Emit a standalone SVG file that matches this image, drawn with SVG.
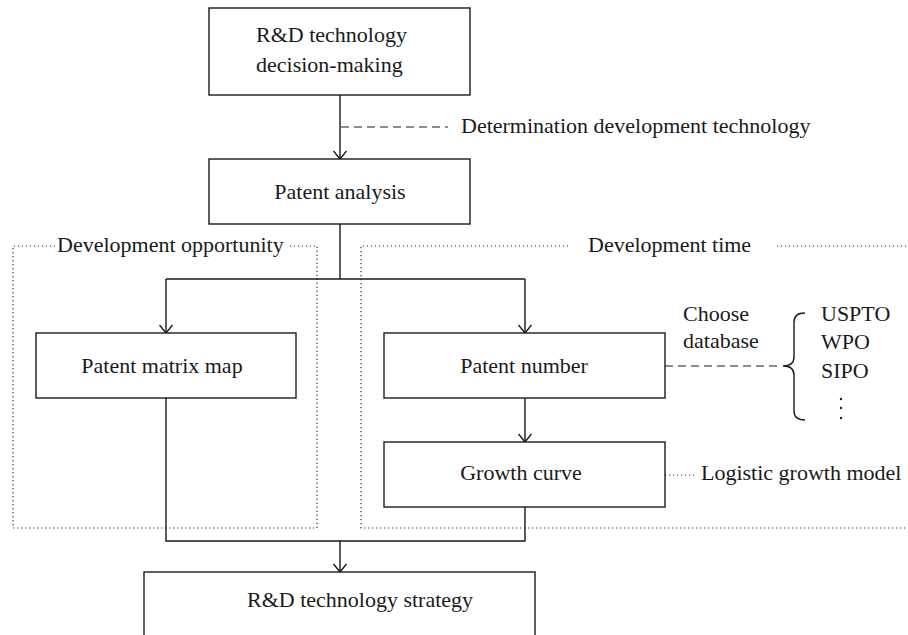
<svg xmlns="http://www.w3.org/2000/svg" width="908" height="635" viewBox="0 0 908 635" font-family="'Liberation Serif', 'DejaVu Serif', serif">
  <style>
    text { font-family: 'Liberation Serif', 'DejaVu Serif', serif; font-size: 22px; fill: #1a1a1a; }
    .box { fill: #ffffff; stroke: #1a1a1a; stroke-width: 1.4; }
    .wire { fill: none; stroke: #1a1a1a; stroke-width: 1.4; }
    .dash { fill: none; stroke: #1a1a1a; stroke-width: 1.2; stroke-dasharray: 8 5; }
    .dot { fill: none; stroke: #333333; stroke-width: 1.2; stroke-dasharray: 1.2 2.8; }
    .mid { text-anchor: middle; }
  </style>
  <defs>
    <!-- open V arrowhead, drawn pointing along +x -->
    <marker id="arrow" viewBox="0 0 10 14" refX="9" refY="7" markerWidth="10" markerHeight="14" markerUnits="userSpaceOnUse" orient="auto">
      <path d="M1,0.5 L9,7 L1,13.5" fill="none" stroke="#1a1a1a" stroke-width="1.4"/>
    </marker>
  </defs>

  <!-- dotted grouping frames -->
  <g id="frame-opportunity">
    <path class="dot" d="M55,246 L13,246 L13,528 L317,528 L317,246 L289,246"/>
    <text x="57" y="252">Development opportunity</text>
  </g>
  <g id="frame-time">
    <path class="dot" d="M568,246 L361,246 L361,528 L908,528"/>
    <path class="dot" d="M777,246 L908,246"/>
    <text x="588" y="252">Development time</text>
  </g>

  <!-- connectors -->
  <g id="connectors">
    <path class="wire" d="M340,95 L340,159" marker-end="url(#arrow)"/>
    <path class="wire" d="M340,224 L340,279 M166,279 L525,279"/>
    <path class="wire" d="M166,279 L166,333" marker-end="url(#arrow)"/>
    <path class="wire" d="M525,279 L525,333" marker-end="url(#arrow)"/>
    <path class="wire" d="M525,398 L525,442" marker-end="url(#arrow)"/>
    <path class="wire" d="M166,398 L166,541 L525,541 L525,507"/>
    <path class="wire" d="M340,541 L340,572" marker-end="url(#arrow)"/>
    <path class="dash" d="M341,127 L448,127"/>
    <path class="dash" d="M665,366 L780,366"/>
    <path class="dot" d="M665,475 L697,475"/>
  </g>

  <!-- nodes -->
  <g id="node-decision">
    <rect class="box" x="209" y="8" width="261" height="87"/>
    <text x="256" y="42">R&amp;D technology</text>
    <text x="256" y="72">decision-making</text>
  </g>
  <g id="label-determination">
    <text x="461" y="133">Determination development technology</text>
  </g>
  <g id="node-analysis">
    <rect class="box" x="209" y="159" width="261" height="65"/>
    <text class="mid" x="340" y="199">Patent analysis</text>
  </g>
  <g id="node-matrix">
    <rect class="box" x="36" y="333" width="260" height="65"/>
    <text class="mid" x="162" y="373">Patent matrix map</text>
  </g>
  <g id="node-number">
    <rect class="box" x="384" y="333" width="281" height="65"/>
    <text class="mid" x="524" y="373">Patent number</text>
  </g>
  <g id="node-growth">
    <rect class="box" x="384" y="442" width="281" height="65"/>
    <text class="mid" x="521" y="480">Growth curve</text>
  </g>
  <g id="label-logistic">
    <text x="701" y="480">Logistic growth model</text>
  </g>
  <g id="databases">
    <text x="683" y="321">Choose</text>
    <text x="683" y="348">database</text>
    <path class="wire" d="M805,313 C798,313 794,316 794,322 L794,357 C794,363 790,366 783,366 C790,366 794,369 794,375 L794,411 C794,417 798,420 805,420"/>
    <text x="821" y="321">USPTO</text>
    <text x="821" y="349">WPO</text>
    <text x="821" y="378">SIPO</text>
    <circle cx="841" cy="399" r="1.2" fill="#1a1a1a"/>
    <circle cx="841" cy="408" r="1.2" fill="#1a1a1a"/>
    <circle cx="841" cy="418" r="1.2" fill="#1a1a1a"/>
  </g>
  <g id="node-strategy">
    <rect class="box" x="144" y="572" width="391" height="80"/>
    <text x="247" y="607">R&amp;D technology strategy</text>
  </g>
</svg>
